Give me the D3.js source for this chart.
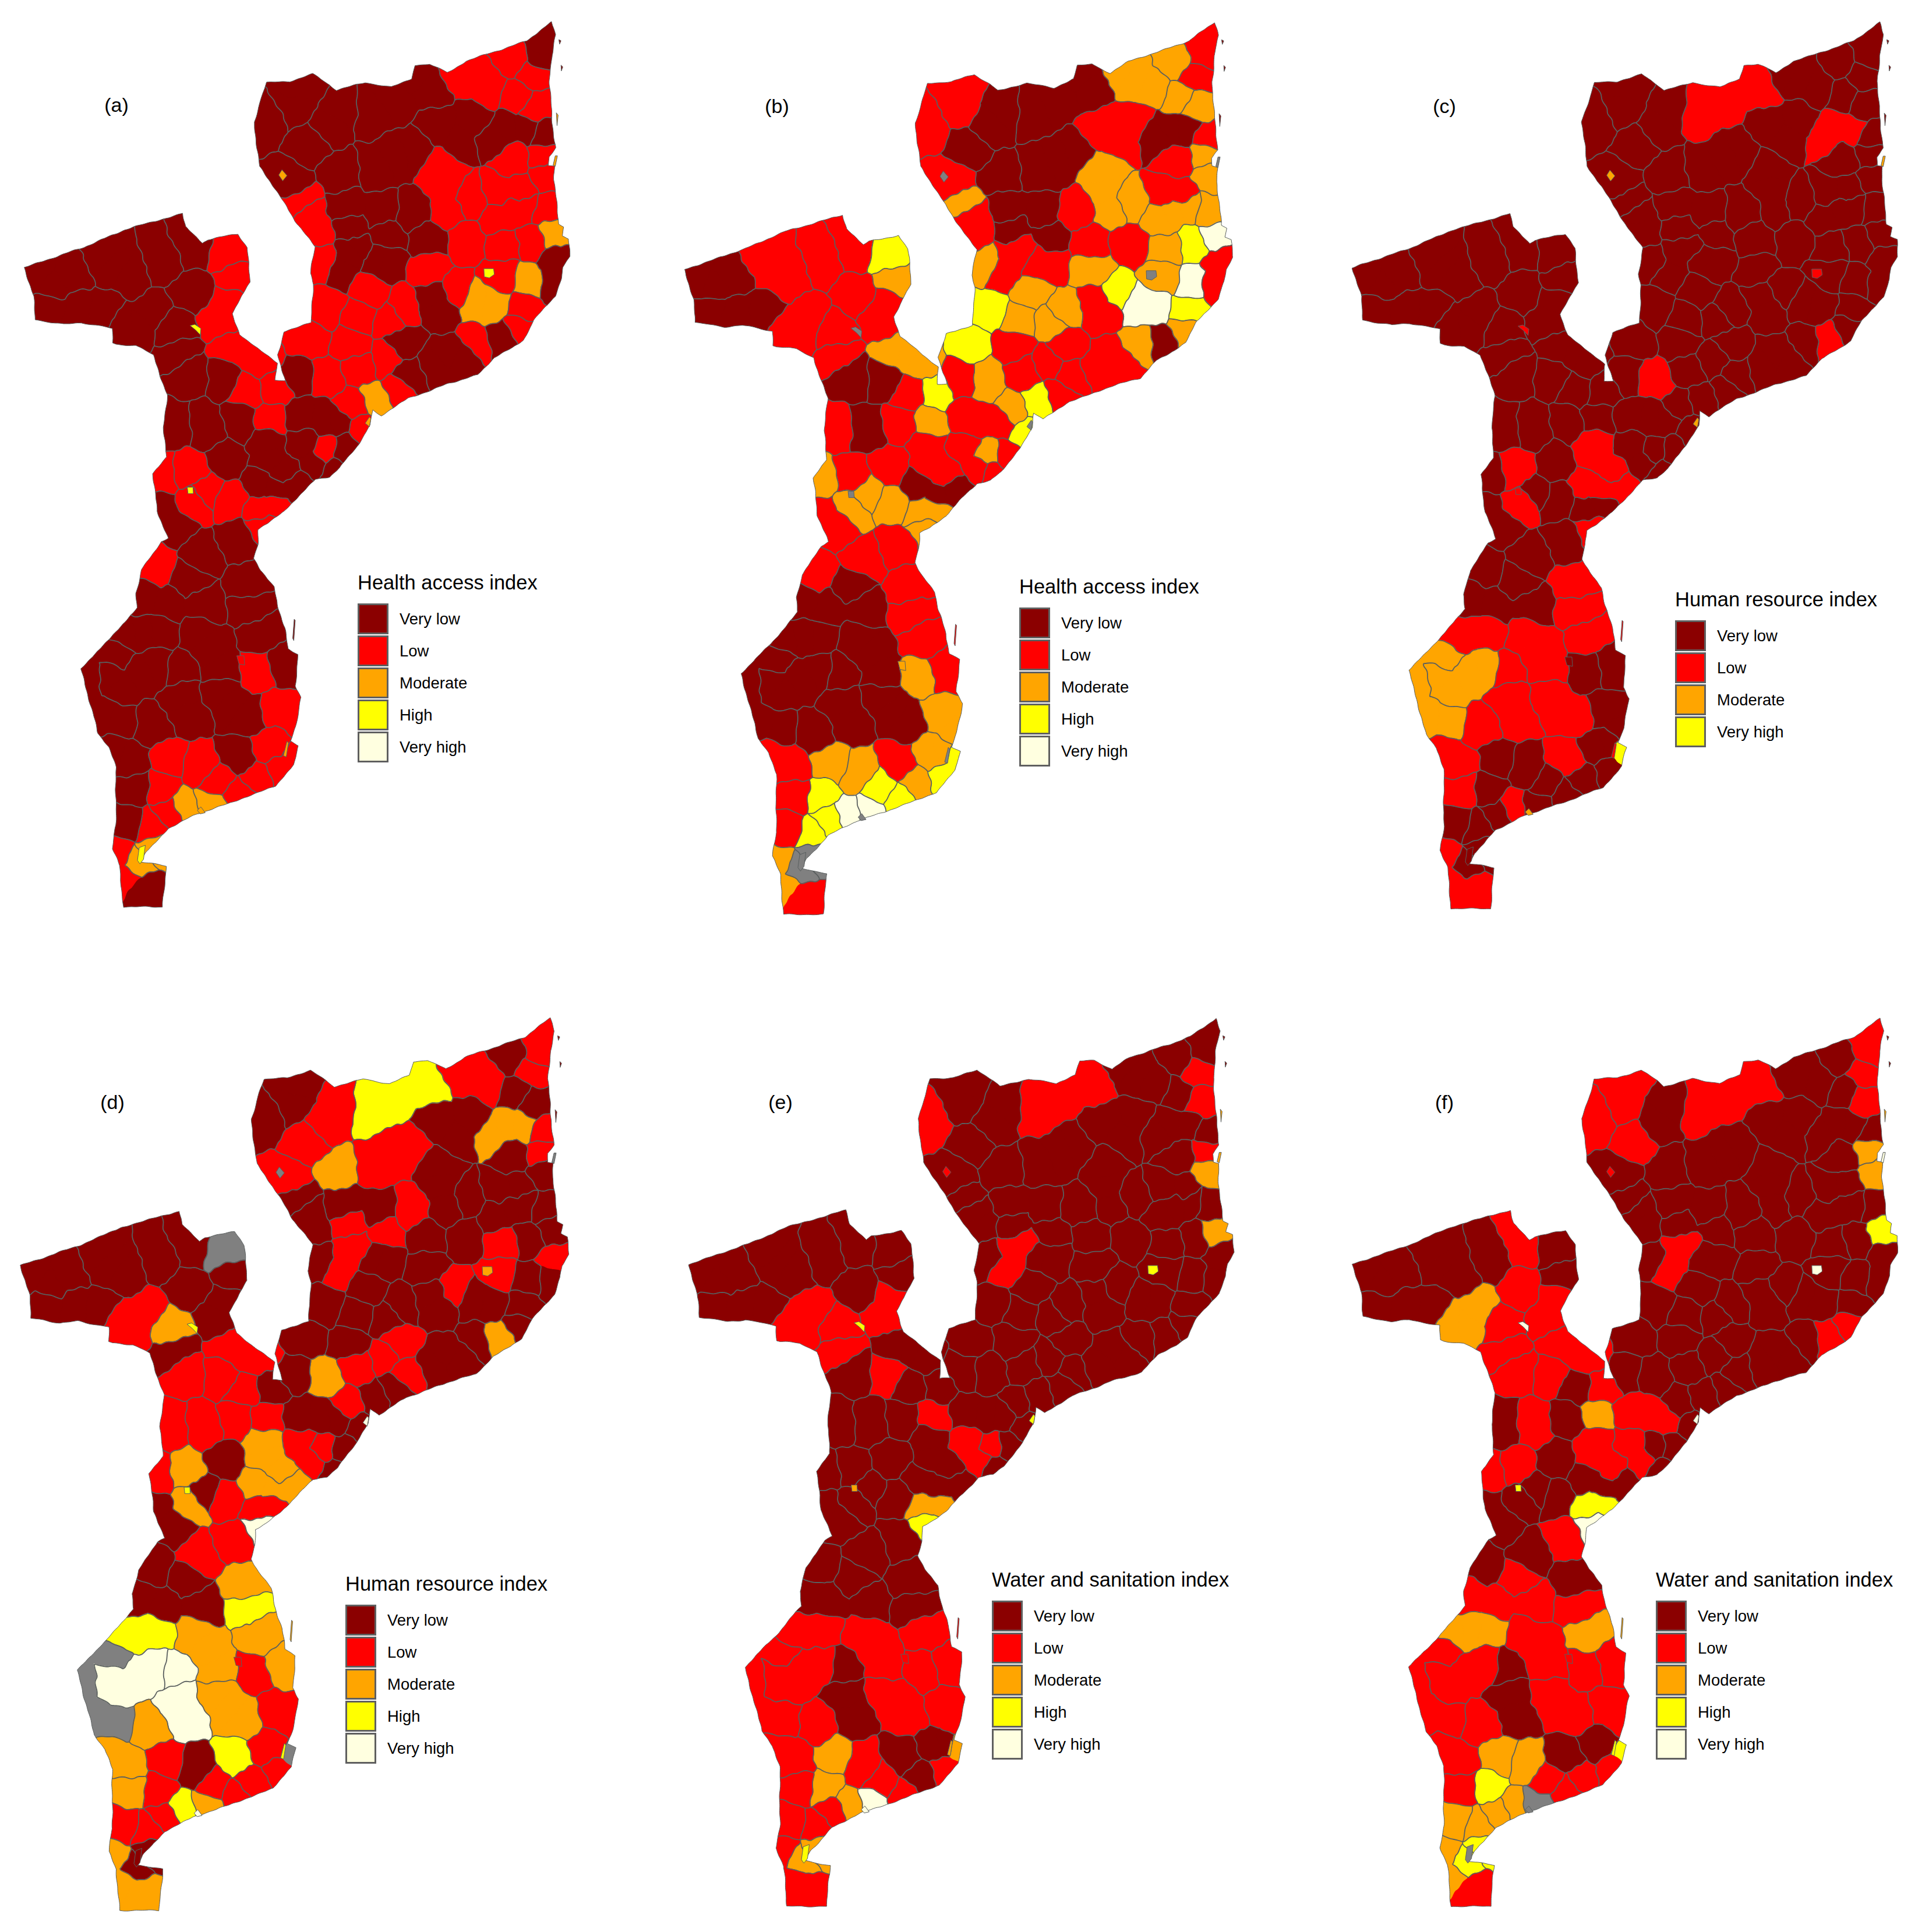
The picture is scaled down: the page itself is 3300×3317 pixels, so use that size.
<!DOCTYPE html>
<html>
<head>
<meta charset="utf-8">
<style>
  body { margin: 0; background: #fff; }
  text { font-family: "Liberation Sans", Arial, sans-serif; fill: #000; }
</style>
<script src="https://cdn.jsdelivr.net/npm/d3@7"></script>
</head>
<body>
<script>
// map geometry on a grid about 1560 wide
var outline = [[1490,18],[1502,40],[1490,75],[1484,120],[1490,180],[1500,235],[1482,250],[1482,264],[1498,266],[1497,290],[1505,340],[1510,365],[1525,370],[1520,385],[1538,390],[1540,420],[1522,440],[1518,460],[1500,490],[1440,530],[1410,565],[1380,578],[1330,595],[1285,625],[1200,640],[1150,652],[1090,665],[1015,695],[990,685],[985,710],[950,745],[900,785],[870,800],[830,805],[790,830],[745,860],[700,880],[672,890],[670,915],[660,940],[680,962],[715,990],[725,1020],[745,1060],[755,1095],[783,1105],[775,1160],[792,1180],[775,1230],[762,1255],[785,1262],[770,1295],[720,1332],[600,1360],[500,1380],[420,1405],[385,1430],[360,1445],[345,1462],[415,1470],[405,1540],[295,1540],[290,1500],[285,1470],[265,1440],[275,1400],[275,1300],[255,1265],[225,1240],[210,1205],[177,1130],[260,1078],[335,1025],[330,1000],[348,960],[400,912],[420,905],[390,860],[378,795],[415,765],[408,715],[418,660],[395,620],[378,590],[330,575],[275,572],[265,570],[265,545],[180,535],[130,538],[50,530],[45,490],[20,440],[185,405],[300,375],[460,347],[470,370],[515,398],[530,392],[615,382],[640,405],[650,465],[625,490],[600,520],[620,555],[680,585],[725,605],[720,635],[748,635],[725,590],[745,550],[820,535],[825,470],[818,450],[830,405],[775,360],[735,320],[675,265],[660,190],[695,122],[760,120],[825,107],[870,125],[890,135],[970,122],[1045,130],[1100,115],[1110,92],[1150,90],[1200,105],[1250,85],[1350,65],[1420,50]];

// one or more seed points per district, Voronoi cells of a district are merged
var districtSeeds = [
  [[1460,60],[1455,80]],[[1385,85]],[[1440,105]],[[1270,115],[1230,100],[1320,130]],[[1390,148]],[[1440,165]],[[1370,200],[1330,215],[1415,200]],[[1470,215]],[[1230,220],[1180,200],[1270,190]],[[1385,255]],
  [[1465,245]],[[1478,280]],[[1400,310],[1350,310]],[[1190,305],[1180,270],[1200,340]],[[1260,325]],[[1050,155],[990,175],[1150,130],[1120,110]],[[900,170],[870,195]],[[700,190]],[[775,165],[790,130]],[[810,230]],
  [[905,280]],[[1060,250],[1000,270],[1100,240]],[[760,290]],[[790,332]],[[830,375],[810,350]],[[920,335],[1010,345]],[[1110,345]],[[935,372],[1030,385]],[[925,420],[905,445],[955,405]],[[1030,430],[1000,425]],
  [[1145,390]],[[1255,395]],[[1380,340],[1340,355],[1420,335]],[[1470,340]],[[1355,405]],[[1435,395]],[[1490,385]],[[1505,425]],[[1150,445]],[[1220,480]],
  [[1350,450]],[[1430,465]],[[1490,470]],[[1320,505],[1280,500]],[[1420,510]],[[1345,565]],[[1285,570]],[[1410,545]],[[1180,515],[1160,490]],[[1200,590],[1170,610],[1240,600]],
  [[1075,510]],[[980,480]],[[950,525]],[[1040,530]],[[855,430]],[[865,510]],[[810,565]],[[930,570]],[[860,630]],[[785,625]],
  [[960,615]],[[1030,600]],[[1075,570]],[[1090,625]],[[1000,665]],[[1060,650]],[[930,680]],[[965,720]],[[850,700],[800,695],[900,700]],[[800,745],[835,775]],
  [[860,755]],[[915,755]],[[880,790]],[[100,470],[60,455],[150,450]],[[170,515],[90,510],[240,515]],[[270,440],[240,420],[310,455]],[[340,540],[300,540],[370,520]],[[410,430]],[[490,410]],[[490,480]],
  [[585,415]],[[610,460]],[[570,530],[590,500]],[[435,545]],[[450,590]],[[630,585],[600,580],[680,600]],[[480,620]],[[580,625]],[[645,650]],[[715,650]],
  [[700,700]],[[440,715]],[[525,715]],[[625,705]],[[590,775]],[[480,790]],[[400,795]],[[490,845]],[[595,840]],[[525,825]],
  [[700,770],[745,790],[690,740]],[[720,825],[670,810],[770,815]],[[680,855],[715,848]],[[690,884]],[[440,880],[400,860]],[[610,910]],[[520,935]],[[385,955]],[[480,980]],[[420,1020],[350,1010],[520,1020]],
  [[640,985]],[[650,1025]],[[680,1070]],[[350,1065],[300,1070],[400,1065]],[[540,1095],[500,1070],[570,1130]],[[275,1105],[200,1150],[240,1215],[280,1220]],[[340,1140],[290,1160],[400,1125],[260,1145]],[[445,1130]],[[475,1210],[460,1180]],[[380,1230]],
  [[600,1190],[570,1170],[640,1210]],[[670,1135]],[[745,1125]],[[730,1200],[770,1225]],[[705,1265],[735,1262]],[[772,1272]],[[620,1285]],[[660,1318]],[[620,1345]],[[560,1325]],
  [[505,1300]],[[425,1285]],[[400,1335]],[[535,1365]],[[470,1370]],[[425,1380]],[[375,1405]],[[260,1270],[320,1290]],[[330,1335]],[[305,1395]],
  [[385,1438]],[[330,1465]],[[285,1450]],[[305,1492]],[[350,1510]],[[740,1302]]
];

// class per district: 0 no data, 1 very low ... 5 very high
var valuesA = [
  1,2,2,2,2,2,1,1,1,2, 2,2,2,2,2,1,1,1,1,1, 1,1,1,2,2,1,1,1,1,1, 1,2,2,2,2,2,3,1,2,2,
  2,3,1,3,2,1,2,2,1,1, 2,2,2,2,2,2,2,2,2,1, 2,2,1,1,3,2,2,2,1,1, 2,1,1,1,1,1,1,1,1,1,
  2,2,2,1,1,2,1,1,2,2, 2,1,1,1,1,2,2,2,2,2, 1,1,2,2,1,1,1,2,1,1, 1,1,1,1,1,1,1,1,1,1,
  1,2,1,2,2,2,1,2,2,2, 2,2,2,3,3,2,2,1,1,1, 3,3,2,2,1,2];
var valuesB = [
  2,3,2,3,3,3,1,2,2,2, 3,3,2,3,3,1,1,2,2,1, 1,1,2,3,2,1,2,1,2,2, 2,2,3,3,3,4,5,2,3,4,
  3,5,2,5,4,1,3,3,2,2, 3,3,3,3,3,4,4,2,3,2, 2,2,2,2,4,2,3,4,2,2, 3,2,2,1,1,2,2,2,2,2,
  4,3,2,2,2,3,1,1,2,4, 3,2,1,2,2,2,3,3,3,3, 2,1,3,3,2,2,2,2,1,1, 2,2,2,1,1,1,1,1,1,1,
  1,3,2,3,3,4,2,3,4,4, 3,3,4,5,5,4,4,2,2,2, 0,0,3,3,2,4];
var valuesC = [
  1,1,1,1,1,1,2,1,1,1, 1,1,1,1,1,2,1,1,1,1, 1,1,1,1,1,1,1,1,1,1, 1,1,1,1,1,1,1,1,1,1,
  1,1,1,1,1,2,1,1,1,1, 1,1,1,1,1,1,1,1,2,1, 1,1,1,1,1,1,1,1,1,1, 1,1,1,1,1,1,1,1,1,1,
  1,1,1,1,1,1,1,1,1,1, 1,1,1,1,1,2,1,2,1,1, 2,2,1,2,1,1,1,1,1,1, 2,2,2,2,2,3,3,2,2,2,
  2,1,1,1,1,4,2,1,1,1, 1,1,1,1,2,1,1,2,2,1, 1,1,2,2,2,1];
var valuesD = [
  2,1,2,2,1,1,3,2,1,1, 2,1,1,1,1,4,2,1,1,2, 3,2,2,1,1,1,2,2,2,1, 1,1,1,1,2,1,1,2,1,2,
  2,1,1,1,1,3,1,1,1,1, 1,1,1,1,1,1,1,1,3,1, 2,2,2,2,1,1,2,1,1,2, 2,1,1,1,1,1,2,1,1,1,
  0,1,1,3,1,2,2,2,2,1, 2,2,2,2,1,3,2,3,2,1, 3,3,2,5,1,2,2,1,1,1, 3,4,3,4,3,0,5,5,5,3,
  3,2,3,2,2,0,4,2,2,2, 1,2,2,3,4,2,2,3,3,2, 1,1,3,3,3,2];
var valuesE = [
  1,1,2,1,1,2,1,1,1,1, 2,3,1,1,1,2,1,2,1,1, 1,1,1,1,1,1,1,1,2,1, 1,1,1,1,1,1,3,1,1,1,
  1,1,1,1,1,1,1,1,1,1, 1,1,1,1,1,1,1,1,1,1, 1,1,1,1,1,1,1,1,1,2, 2,1,1,1,1,1,2,1,1,1,
  1,1,2,2,2,1,1,2,1,1, 2,1,1,1,1,1,1,1,1,1, 1,1,3,4,1,1,1,1,1,1, 1,1,2,2,2,2,2,1,1,2,
  2,2,2,2,1,3,1,1,2,2, 2,3,3,5,3,2,2,2,2,2, 3,3,2,2,2,2];
var valuesF = [
  2,1,2,1,1,2,1,1,1,1, 3,3,1,1,1,2,1,2,2,2, 1,1,1,1,1,1,1,1,2,1, 1,1,1,1,1,1,4,1,1,1,
  1,1,1,1,1,2,1,2,1,1, 1,1,1,1,1,1,1,1,1,1, 1,1,1,1,1,1,1,1,2,2, 1,1,1,1,1,1,3,1,2,2,
  1,1,2,2,2,2,2,2,1,2, 3,1,2,1,1,2,2,1,1,1, 2,1,4,5,1,2,1,1,2,2, 1,2,3,3,2,2,2,1,1,2,
  2,2,2,2,1,4,1,2,2,2, 3,3,4,0,3,3,3,2,2,3, 4,4,3,3,2,2];

// towns and islands too small for a seed point, drawn on top
var smallRings = [
  [[729,281],[738,272],[752,282],[740,291]],
  [[482,540],[495,538],[512,545],[510,556],[498,548]],
  [[1301,442],[1328,442],[1330,452],[1316,458],[1302,456]],
  [[1494,264],[1500,248],[1506,248],[1500,266]],
  [[970,708],[982,697],[986,700],[982,714]],
  [[474,818],[490,818],[491,829],[476,829]],
  [[502,1374],[512,1368],[524,1378],[510,1380]],
  [[335,1460],[340,1438],[357,1434],[352,1458],[342,1466]],
  [[742,1280],[752,1255],[756,1258],[750,1282]],
  [[612,1108],[632,1108],[634,1124],[618,1122]],
  [[768,1078],[772,1045],[775,1047],[771,1082]],
  [[1510,48],[1516,50],[1512,56]],
  [[1516,92],[1521,95],[1517,102]],
  [[1503,174],[1508,178],[1505,196]]
];
var smallA = [3,4,4,3,3,4,3,4,3,2,1,1,1,3];
var smallB = [0,0,0,0,0,0,0,0,0,3,2,1,1,1];
var smallC = [3,2,2,3,3,2,3,1,2,1,2,1,1,1];
var smallD = [0,4,3,0,5,4,5,1,4,2,3,1,1,1];
var smallE = [2,4,4,3,4,3,5,4,3,2,2,1,1,3];
var smallF = [2,5,5,5,5,4,0,0,4,2,3,1,1,3];

var classColors = ["#808080", "#8b0000", "#ff0000", "#ffa500", "#ffff00", "#ffffe0"];
var panelLetters = ["(a)", "(b)", "(c)", "(d)", "(e)", "(f)"];
var legendTitles = ["Health access index", "Health access index", "Human resource index", "Human resource index", "Water and sanitation index", "Water and sanitation index"];
var fiveLabels = ["Very low", "Low", "Moderate", "High", "Very high"];
var fourLabels = ["Very low", "Low", "Moderate", "Very high"];
var legendLabels = [fiveLabels, fiveLabels, fourLabels, fiveLabels, fiveLabels, fiveLabels];
var panelValues = [valuesA, valuesB, valuesC, valuesD, valuesE, valuesF];
var panelSmall = [smallA, smallB, smallC, smallD, smallE, smallF];

// where each panel sits on the page
var layout = [
  {x:[42,978],    y:[38,1557],    lab:[200,192],    leg:[614,1012]},
  {x:[1175,2116], y:[38,1570],    lab:[1334,194],   leg:[1750,1019]},
  {x:[2322,3258], y:[38,1560],    lab:[2480,194],   leg:[2876,1041]},
  {x:[35,976],    y:[1748,3280],  lab:[193,1904],   leg:[593,2731]},
  {x:[1182,2118], y:[1748,3273],  lab:[1340,1904],  leg:[1703,2724]},
  {x:[2322,3258], y:[1748,3273],  lab:[2480,1904],  leg:[2843,2724]}
];

var width = 3300, height = 3317;
var borderColor = "#5a5f5f";

var svg = d3.select("body").append("svg")
    .attr("width", width)
    .attr("height", height)
    .style("display", "block");

// flat list of seeds, each remembers its district
var seeds = [];
districtSeeds.forEach(function(list, id) {
  list.forEach(function(p) { seeds.push({id: id, p: p}); });
});

// bends straight voronoi edges so that they read as drawn borders.
// it only depends on position so neighbouring cells still share their edge
function bend(px, py, amp) {
  var dx = amp * (2.4 * Math.sin(py / 13 + 1.4 * Math.cos(px / 29)) + 1.4 * Math.sin((px + py) / 5.3));
  var dy = amp * (2.4 * Math.sin(px / 11 + 1.4 * Math.cos(py / 31)) + 1.4 * Math.sin((px - py) / 4.7));
  return [px + dx, py + dy];
}

function bentPath(pts, closed, amp) {
  var out = [];
  var n = closed ? pts.length : pts.length - 1;
  for (var i = 0; i < n; i++) {
    var a = pts[i], b = pts[(i + 1) % pts.length];
    var len = Math.hypot(b[0] - a[0], b[1] - a[1]);
    var steps = Math.min(300, Math.max(1, Math.round(len / 3.5)));
    for (var s = 0; s < steps; s++) {
      var t = s / steps;
      out.push(bend(a[0] + (b[0] - a[0]) * t, a[1] + (b[1] - a[1]) * t, amp));
    }
  }
  if (!closed) out.push(bend(pts[n][0], pts[n][1], amp));
  return "M" + out.map(function(p) { return p[0].toFixed(1) + "," + p[1].toFixed(1); }).join("L") + (closed ? "Z" : "");
}

layout.forEach(function(lay, k) {
  var x = d3.scaleLinear().domain([20, 1540]).range(lay.x);
  var y = d3.scaleLinear().domain([18, 1540]).range(lay.y);
  var values = panelValues[k];
  var g = svg.append("g");

  var ring = d3.line()
      .x(function(d) { return x(d[0]); })
      .y(function(d) { return y(d[1]); })
      .curve(d3.curveLinearClosed);

  var coast = bentPath(outline.map(function(d) { return [x(d[0]), y(d[1])]; }), true, 0.3);

  g.append("clipPath").attr("id", "clip" + k)
    .append("path").attr("d", coast);

  var delaunay = d3.Delaunay.from(seeds, function(d) { return x(d.p[0]); }, function(d) { return y(d.p[1]); });
  var voronoi = delaunay.voronoi([lay.x[0] - 40, lay.y[0] - 40, lay.x[1] + 40, lay.y[1] + 40]);

  var map = g.append("g").attr("clip-path", "url(#clip" + k + ")");

  map.selectAll("path.cell")
      .data(seeds)
    .enter().append("path")
      .attr("class", "cell")
      .attr("d", function(d, i) {
        var poly = voronoi.cellPolygon(i);
        poly.pop();
        return bentPath(poly, true, 1);
      })
      .attr("fill", function(d) { return classColors[values[d.id]]; })
      .attr("stroke", function(d) { return classColors[values[d.id]]; })
      .attr("stroke-width", 1.5);

  // district borders: voronoi edges between seeds of different districts
  var edges = [];
  var half = delaunay.halfedges, tri = delaunay.triangles, cc = voronoi.circumcenters;
  for (var e = 0; e < half.length; e++) {
    var o = half[e];
    if (o < e) continue;
    var a = tri[e], b = tri[e % 3 === 2 ? e - 2 : e + 1];
    if (seeds[a].id === seeds[b].id) continue;
    var ti = Math.floor(e / 3), tj = Math.floor(o / 3);
    edges.push(bentPath([[cc[ti * 2], cc[ti * 2 + 1]], [cc[tj * 2], cc[tj * 2 + 1]]], false, 1));
  }
  map.append("path")
      .attr("d", edges.join(""))
      .attr("fill", "none")
      .attr("stroke", borderColor)
      .attr("stroke-width", 1.8);

  g.append("path")
      .attr("d", coast)
      .attr("fill", "none")
      .attr("stroke", borderColor)
      .attr("stroke-width", 1);

  g.selectAll("path.small")
      .data(smallRings)
    .enter().append("path")
      .attr("class", "small")
      .attr("d", ring)
      .attr("fill", function(d, i) { return classColors[panelSmall[k][i]]; })
      .attr("stroke", borderColor)
      .attr("stroke-width", 1);

  g.append("text")
      .attr("x", lay.lab[0])
      .attr("y", lay.lab[1])
      .attr("text-anchor", "middle")
      .style("font-size", "34px")
      .text(panelLetters[k]);

  // legend
  var leg = g.append("g").attr("transform", "translate(" + lay.leg[0] + "," + lay.leg[1] + ")");
  leg.append("text")
      .style("font-size", "34.5px")
      .text(legendTitles[k]);

  var row = leg.selectAll("g.row")
      .data(legendLabels[k])
    .enter().append("g")
      .attr("class", "row")
      .attr("transform", function(d, i) { return "translate(0," + (24 + i * 55) + ")"; });

  row.append("rect")
      .attr("x", 1.5).attr("y", 1.5)
      .attr("width", 50).attr("height", 50)
      .attr("fill", function(d, i) { return classColors[i + 1]; })
      .attr("stroke", "#5f5f5f")
      .attr("stroke-width", 3);

  row.append("text")
      .attr("x", 72)
      .attr("y", 36)
      .style("font-size", "27.5px")
      .text(function(d) { return d; });
});
</script>
</body>
</html>
